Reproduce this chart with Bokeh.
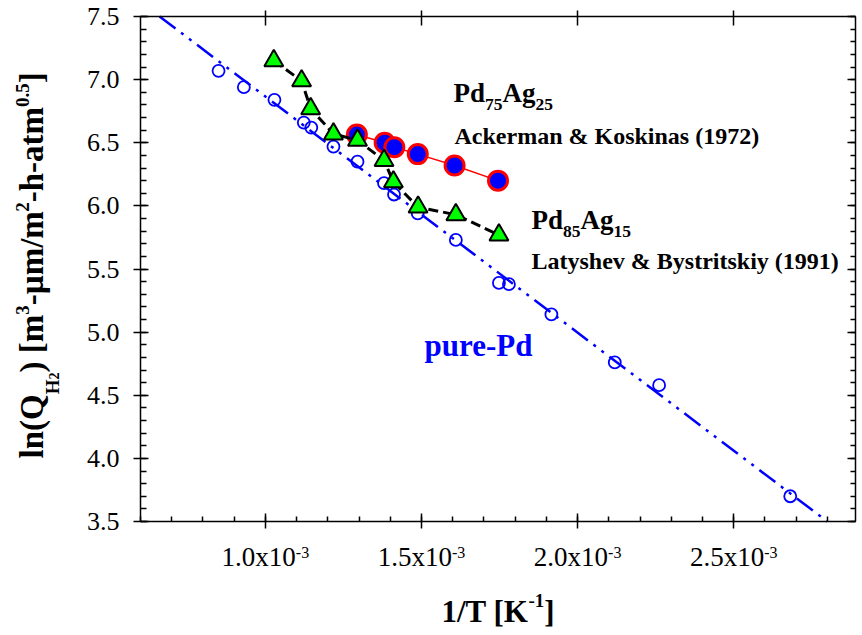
import math
from bokeh.plotting import figure
from bokeh.models import Label, LinearAxis, SingleIntervalTicker, PrintfTickFormatter, Range1d
from bokeh.embed import file_html
from bokeh.resources import INLINE

# ---------------- data ----------------
pure_pd_x = [0.850e-3, 0.931e-3, 1.029e-3, 1.123e-3, 1.147e-3, 1.218e-3, 1.295e-3, 1.380e-3,
             1.412e-3, 1.488e-3, 1.610e-3, 1.748e-3, 1.780e-3, 1.916e-3, 2.119e-3, 2.261e-3, 2.681e-3]
pure_pd_y = [7.07, 6.94, 6.84, 6.66, 6.62, 6.47, 6.35, 6.18,
             6.09, 5.94, 5.73, 5.39, 5.38, 5.14, 4.76, 4.58, 3.70]

fit_x = [0.661e-3, 2.800e-3]
fit_y = [7.5, 3.5]

pd75_x = [1.293e-3, 1.382e-3, 1.413e-3, 1.488e-3, 1.606e-3, 1.745e-3]
pd75_y = [6.565, 6.50, 6.465, 6.41, 6.32, 6.20]

pd85_x = [1.027e-3, 1.116e-3, 1.145e-3, 1.218e-3, 1.295e-3, 1.380e-3, 1.410e-3, 1.489e-3, 1.610e-3, 1.748e-3]
pd85_y = [7.15, 6.99, 6.77, 6.57, 6.52, 6.36, 6.19, 5.99, 5.93, 5.77]

x_tick_values = [1.0e-3, 1.5e-3, 2.0e-3, 2.5e-3]
x_tick_bases = ["1.0x10", "1.5x10", "2.0x10", "2.5x10"]
x_tick_exps = ["-3", "-3", "-3", "-3"]

X0, X1 = 0.6e-3, 2.89e-3     # axis box, x
Y0, Y1 = 3.5, 7.5            # axis box, y

# ---------------- layout (screen pixels) ----------------
W, H = 862, 635
PL, PR, PT, PB = 140, 855, 16, 521       # axis box edges on the canvas
xpp = (X1 - X0) / (PR - PL)
ypp = (Y1 - Y0) / (PB - PT)
XS, XE = X0 - PL * xpp, X1 + (W - PR) * xpp
YS, YE = Y0 - (H - PB) * ypp, Y1 + PT * ypp

FONT = "Liberation Serif"
KB = 0.38   # baseline correction of the svg text box, in em
WB = {' ': .25, '(': .333, ')': .333, '[': .333, ']': .333, '-': .333, '/': .278, '.': .25, '&': .833,
      'l': .278, 'n': .556, 'Q': .778, 'H': .778, 'm': .833, 'µ': .556, 'h': .556, 'a': .5, 't': .333,
      'P': .611, 'd': .556, 'A': .722, 'g': .5, 'c': .444, 'k': .556, 'e': .444, 'r': .444, 'K': .778,
      'o': .5, 's': .389, 'i': .278, 'L': .667, 'y': .5, 'v': .5, 'B': .667, 'p': .556, 'u': .556, 'T': .667}
WR = {'.': .25, 'x': .5, '-': .333}


def tw(s, size, bold=True):
    tab = WB if bold else WR
    return sum(tab.get(c, .5) for c in s) * size


def put(p, pieces, X, Y, color="black", bold=True, angle=0.0):
    """pieces: (text, font px, baseline shift px up); X, Y = canvas px of first baseline start"""
    cum = 0.0
    for text, size, dy in pieces:
        up = dy + KB * size
        if angle == 0:
            xo, yo = X + cum, H - Y + up
        else:
            xo, yo = X - up, H - Y + cum
        p.add_layout(Label(x=XS, y=YS, x_units="data", y_units="data", x_offset=xo, y_offset=yo,
                           text=text, text_font=FONT, text_font_size=f"{size}px",
                           text_font_style="bold" if bold else "normal", text_color=color,
                           text_align="left", text_baseline="alphabetic", angle=angle))
        cum += tw(text, size, bold)


# ---------------- figure ----------------
p = figure(frame_width=W, frame_height=H, x_range=Range1d(XS, XE), y_range=Range1d(YS, YE),
           output_backend="svg", toolbar_location=None, min_border=0,
           x_axis_location=None, y_axis_location=None)
p.background_fill_color = "white"
p.border_fill_color = "white"
p.outline_line_color = None
p.grid.visible = False


def make_axis(loc, bounds, ticker, tin, tout, mtin, mtout):
    ax = LinearAxis(fixed_location=loc, bounds=bounds, ticker=ticker)
    ax.axis_line_color = "black"
    ax.axis_line_width = 1.5
    ax.major_tick_line_color = "black"
    ax.major_tick_line_width = 1.5
    ax.minor_tick_line_color = "black"
    ax.minor_tick_line_width = 1.5
    ax.major_tick_in = tin
    ax.major_tick_out = tout
    ax.minor_tick_in = mtin
    ax.minor_tick_out = mtout
    ax.major_label_text_color = None
    ax.major_label_standoff = 0
    return ax


bottom = make_axis(Y0, (X0, X1), SingleIntervalTicker(interval=0.5e-3, num_minor_ticks=5), 8, 7, 5, 0)
p.add_layout(bottom, "below")

left = make_axis(X0, (Y0, Y1), SingleIntervalTicker(interval=0.5, num_minor_ticks=5), 8, 7, 6, 0)
left.formatter = PrintfTickFormatter(format="%.1f")
left.major_label_text_color = "black"
left.major_label_text_font = FONT
left.major_label_text_font_size = "26px"
left.major_label_standoff = 14
p.add_layout(left, "left")

top = make_axis(Y1, (X0, X1), SingleIntervalTicker(interval=0.5e-3, num_minor_ticks=0), 9, 6, 0, 0)
p.add_layout(top, "above")

right = make_axis(X1, (Y0, Y1), SingleIntervalTicker(interval=0.5, num_minor_ticks=5), 8, 0, 5, 0)
p.add_layout(right, "right")

# ---------------- data glyphs ----------------
p.line(fit_x, fit_y, line_color="#0000FF", line_width=2.5, line_dash="20 7 3 7 3 7")
p.scatter(pure_pd_x, pure_pd_y, marker="circle", size=12, fill_color=None,
          line_color="#0000FF", line_width=1.8)

p.line(pd75_x, pd75_y, line_color="#FF0000", line_width=1.5)
p.scatter(pd75_x, pd75_y, marker="circle", size=19, fill_color="#0000FF",
          line_color="#FF0000", line_width=3)

p.line(pd85_x, pd85_y, line_color="black", line_width=3, line_dash="10 5")
p.scatter(pd85_x, pd85_y, marker="triangle", size=19, fill_color="#00FF00",
          line_color="black", line_width=2)

# ---------------- texts ----------------
put(p, [("Pd", 27, 0), ("75", 17.5, -8), ("Ag", 27, 0), ("25", 17.5, -8)], 453, 103)
put(p, [("Ackerman & Koskinas (1972)", 24, 0)], 454, 145)
put(p, [("Pd", 27, 0), ("85", 17.5, -8), ("Ag", 27, 0), ("15", 17.5, -8)], 531, 230)
put(p, [("Latyshev & Bystritskiy (1991)", 24, 0)], 531, 270)
put(p, [("pure-Pd", 31, 0)], 424, 357, color="#0000FF")

# x tick labels with exponents
for v, b, e in zip(x_tick_values, x_tick_bases, x_tick_exps):
    X = PL + (v - X0) / xpp
    tot = tw(b, 27, bold=False) + tw(e, 16, bold=False)
    put(p, [(b, 27, 0), (e, 16, 8.5)], X - tot / 2, 566.5, bold=False)

# axis titles
xl = [("1/T [K", 31, 0), ("-1", 19, 16), ("]", 31, 0)]
xw = sum(tw(t, s) for t, s, _ in xl)
put(p, xl, (PL + PR) / 2 - xw / 2, 623)

yl = [("ln(Q", 33, 0), ("H", 19, -15), ("2", 14, -15), (") [m", 33, 0), ("3", 19, 15),
      ("-µm/m", 33, 0), ("2", 19, 15), ("-h-atm", 33, 0), ("0.5", 19, 15), ("]", 33, 0)]
put(p, yl, 44, 458, angle=math.pi / 2)

open("out.html", "w").write(file_html(p, INLINE))
